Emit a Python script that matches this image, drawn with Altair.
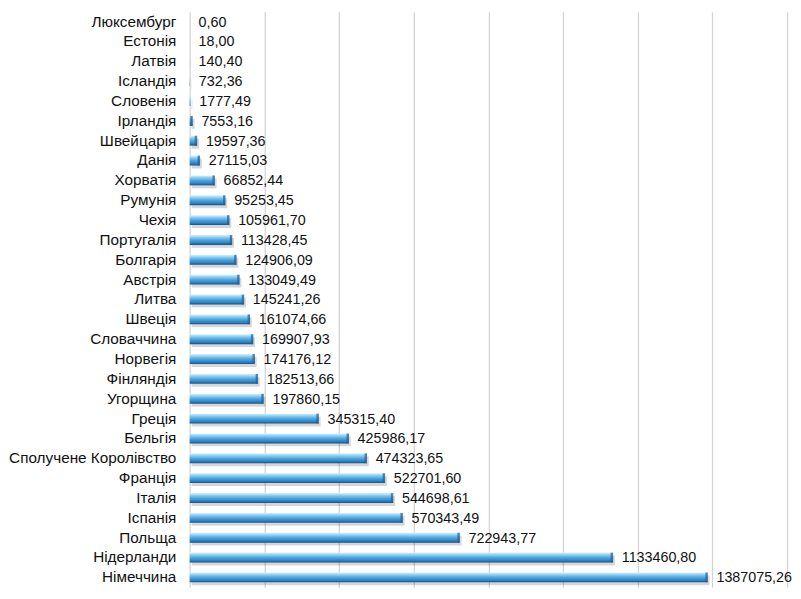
import altair as alt
import pandas as pd

countries = ["Люксембург", "Естонія", "Латвія", "Ісландія", "Словенія", "Ірландія",
             "Швейцарія", "Данія", "Хорватія", "Румунія", "Чехія", "Португалія",
             "Болгарія", "Австрія", "Литва", "Швеція", "Словаччина", "Норвегія",
             "Фінляндія", "Угорщина", "Греція", "Бельгія", "Сполучене Королівство",
             "Франція", "Італія", "Іспанія", "Польща", "Нідерланди", "Німеччина"]
values = [0.60, 18.00, 140.40, 732.36, 1777.49, 7553.16,
          19597.36, 27115.03, 66852.44, 95253.45, 105961.70, 113428.45,
          124906.09, 133049.49, 145241.26, 161074.66, 169907.93, 174176.12,
          182513.66, 197860.15, 345315.40, 425986.17, 474323.65,
          522701.60, 544698.61, 570343.49, 722943.77, 1133460.80, 1387075.26]

df = pd.DataFrame({"country": countries, "v": values})

FONT = "Liberation Sans"

base = alt.Chart(df).encode(
    y=alt.Y("country:N", sort=countries, title=None,
            axis=alt.Axis(labelFont=FONT, labelFontSize=15.5, labelColor="#111",
                          ticks=False, domain=False, labelPadding=14,
                          labelLimit=300)),
)

xenc = alt.X("v:Q", title=None,
             scale=alt.Scale(domain=[0, 1600000], nice=False),
             axis=alt.Axis(values=[0, 200000, 400000, 600000, 800000, 1000000,
                                   1200000, 1400000, 1600000],
                           labels=False, ticks=False, domain=False,
                           grid=True, gridColor="#d4d4d4", gridWidth=1.3))

shadow = base.mark_bar(size=10, color="#000000", opacity=0.16,
                       xOffset=2, yOffset=3).encode(x=xenc)

grad = alt.Gradient(
    gradient="linear", x1=0, y1=0, x2=0, y2=1,
    stops=[alt.GradientStop(offset=0, color="#d9f0fc"),
           alt.GradientStop(offset=0.22, color="#8fd0f3"),
           alt.GradientStop(offset=0.5, color="#4ea8e0"),
           alt.GradientStop(offset=0.8, color="#2d82c2"),
           alt.GradientStop(offset=1, color="#174f85")])

bars = base.mark_bar(size=10, color=grad).encode(x=xenc)

cap = base.transform_filter("datum.v > 5000").mark_tick(
    thickness=2.5, size=10, color="#1f5f97", xOffset=-1).encode(x="v:Q")

labels = base.transform_calculate(
    lab="replace(format(datum.v, '.2f'), '.', ',')"
).mark_text(align="left", baseline="middle", dx=9, dy=1, font=FONT,
            fontSize=14.5, color="#111").encode(x="v:Q", text="lab:N")

chart = alt.layer(shadow, bars, cap, labels).properties(
    width=605, height=583, padding=0
).configure_view(stroke=None)

chart.save("out.html", embed_options={"renderer": "svg", "actions": False})
